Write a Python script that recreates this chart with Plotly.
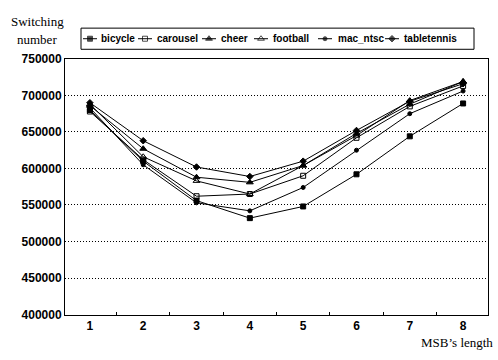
import plotly.graph_objects as go

# ---------------- data ----------------
msb_length = ["1", "2", "3", "4", "5", "6", "7", "8"]
series_names = ["bicycle", "carousel", "cheer", "football", "mac_ntsc", "tabletennis"]
bicycle = [680000, 610000, 556000, 532000, 548000, 592000, 644000, 689000]
carousel = [678000, 612000, 562000, 565000, 590000, 642000, 685000, 713000]
cheer = [686000, 627000, 588000, 581000, 604000, 648000, 688000, 719000]
football = [688000, 616000, 583000, 565000, 604000, 645000, 693000, 719000]
mac_ntsc = [683000, 605000, 553000, 542000, 574000, 625000, 675000, 706000]
tabletennis = [690000, 638000, 602000, 589000, 610000, 652000, 692000, 716000]
y_ticks = [400000, 450000, 500000, 550000, 600000, 650000, 700000, 750000]

series_values = [bicycle, carousel, cheer, football, mac_ntsc, tabletennis]

# ---------------- styles / layout ----------------
W, H = 498, 360
PL, PR, PT, PB = 65, 488, 54, 320
symbols = ["square", "square-open", "triangle-up", "triangle-up-open", "circle", "diamond"]
msizes = [5, 5, 6, 6, 4, 5]
SANS = "Liberation Sans, Arial, sans-serif"
SERIF = "Liberation Serif, Times New Roman, serif"

fig = go.Figure()
for name, vals, sym, ms in zip(series_names, series_values, symbols, msizes):
    fig.add_trace(go.Scatter(
        x=msb_length, y=vals, name=name, mode="lines+markers",
        line=dict(color="black", width=1),
        marker=dict(symbol=sym, size=ms, color="black",
                    line=dict(color="black", width=1)),
        showlegend=False, xaxis="x", yaxis="y"))

# custom legend (pixel positions on an overlay axis pair)
leg_sym_x = [90, 145, 209, 261, 325, 392]
leg_text_x = [99, 155, 219, 271, 336, 402]
LEG_Y = 33
for name, sym, ms, sx, tx in zip(series_names, symbols, msizes, leg_sym_x, leg_text_x):
    fig.add_trace(go.Scatter(
        x=[sx - 7, sx, sx + 7], y=[LEG_Y, LEG_Y, LEG_Y], mode="lines+markers",
        line=dict(color="black", width=1),
        marker=dict(symbol=sym, size=[0, ms, 0], color="black",
                    line=dict(color="black", width=1)),
        showlegend=False, hoverinfo="skip", xaxis="x2", yaxis="y2"))
    fig.add_annotation(x=tx, y=LEG_Y, xref="x2", yref="y2", text=name,
                       showarrow=False, xanchor="left", yanchor="middle",
                       font=dict(family=SANS, size=10, color="black", weight="bold"))

fig.add_shape(type="rect", xref="x2", yref="y2", x0=81, x1=474, y0=22, y1=44,
              line=dict(color="black", width=1), fillcolor="rgba(0,0,0,0)")

fig.add_annotation(x=37, y=15, xref="x2", yref="y2", text="Switching", showarrow=False,
                   xanchor="center", yanchor="middle",
                   font=dict(family=SERIF, size=13, color="black"))
fig.add_annotation(x=37, y=34, xref="x2", yref="y2", text="number", showarrow=False,
                   xanchor="center", yanchor="middle",
                   font=dict(family=SERIF, size=13, color="black"))
fig.add_annotation(x=495, y=349, xref="x2", yref="y2", text="MSB\u2019s length", showarrow=False,
                   xanchor="right", yanchor="middle",
                   font=dict(family=SERIF, size=13, color="black"))

fig.update_layout(
    width=W, height=H,
    margin=dict(l=0, r=0, t=0, b=0),
    paper_bgcolor="white", plot_bgcolor="rgba(0,0,0,0)",
    showlegend=False,
    xaxis=dict(type="category", domain=[PL / W, PR / W], anchor="y",
               showline=True, linecolor="black", linewidth=1, mirror=True,
               showgrid=False, zeroline=False,
               tickson="boundaries", ticks="inside", ticklen=3, tickcolor="black",
               tickfont=dict(family=SANS, size=12, color="black", weight="bold")),
    yaxis=dict(domain=[1 - PB / H, 1 - PT / H], anchor="x",
               range=[400000, 750000], tickvals=y_ticks,
               ticktext=[str(v) for v in y_ticks],
               showline=True, linecolor="black", linewidth=1, mirror=True,
               showgrid=True, gridcolor="black", gridwidth=1, griddash="1px,2px",
               zeroline=False, ticks="",
               tickfont=dict(family=SANS, size=12, color="black", weight="bold")),
    xaxis2=dict(domain=[0, 1], range=[0, W], anchor="y2", visible=False, fixedrange=True),
    yaxis2=dict(domain=[0, 1], range=[H, 0], anchor="x2", visible=False, fixedrange=True),
)

fig.write_html("out.html", config={"displayModeBar": False},
               post_script="document.body.style.margin='0';document.body.style.overflow='hidden';")
